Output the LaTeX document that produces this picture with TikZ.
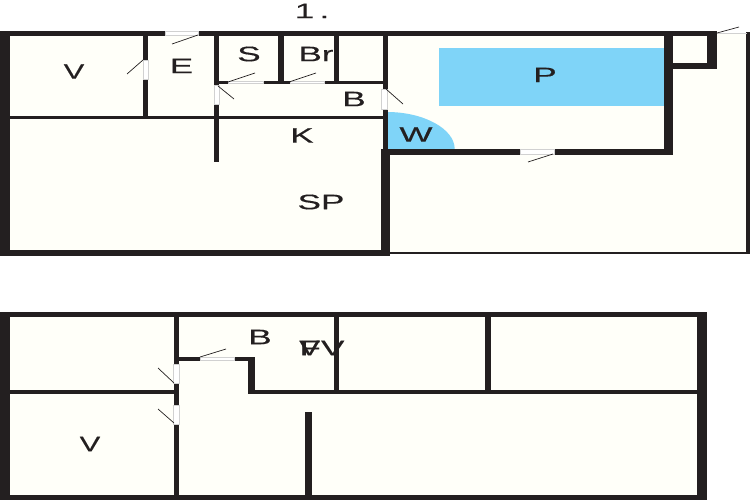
\documentclass[tikz,border=0pt]{standalone}
\usepackage{fontspec}
\setmainfont{Liberation Sans}
\definecolor{floorc}{HTML}{FFFFF9}
\definecolor{wallc}{HTML}{231F20}
\definecolor{waterc}{HTML}{7FD4F8}
\tikzset{
  wall/.style={fill=wallc,draw=wallc,line width=0.7pt},
  pane/.style={fill=white,draw=black!18,line width=0.5pt},
  swing/.style={draw=wallc,line width=0.7pt},
  lbl/.style={font=\fontsize{21}{22}\selectfont\addfontfeature{FakeBold=0.25},text=wallc,xscale=1.67,transform shape,inner sep=0pt},
  lblv/.style={lbl,xscale=0.88}
}
\newcommand{\wl}[4]{\path[wall] (#1,#2) rectangle (#3,#4);}
\newcommand{\pn}[4]{\path[pane] (#1,#2) rectangle (#3,#4);}
\begin{document}
\begin{tikzpicture}[x=1pt,y=-1pt]
\useasboundingbox (0,0) rectangle (750,500);
\fill[white] (0,0) rectangle (750,500);
% floors
\fill[floorc] (0,33) rectangle (750,253);
\fill[white] (716,0) rectangle (750,32);
\fill[floorc] (0,314) rectangle (704,498);
% water
\fill[waterc] (439,48) rectangle (664,106.5);
\fill[waterc] (387,149) -- (387,112) .. controls (424,112) and (454.7,129) .. (454.7,149) -- cycle;
% upper outer walls
\wl{0}{31}{716}{35.5}
\wl{0}{31}{9}{255}
\wl{0}{250}{389}{255}
\wl{381}{149}{389}{255}
\wl{389}{252.6}{750}{253.4}
\wl{746.5}{32.5}{750}{253.4}
% upper interior
\wl{9}{116}{384}{118.3}
\wl{143}{35}{147}{60}
\wl{143}{79}{147}{117}
\wl{214}{35}{218.5}{85}
\wl{214}{104}{218.5}{161}
\wl{278.5}{35}{283.5}{83}
\wl{334}{35}{338.5}{83}
\wl{383}{35}{387}{89}
\wl{383}{109}{387}{150}
\wl{214}{81.5}{228}{83.5}
\wl{263}{81.5}{290}{83.5}
\wl{324}{81.5}{385}{83.5}
\wl{381}{149}{520}{154}
\wl{554}{149}{672.5}{154}
\wl{664}{35}{672.5}{154}
\wl{664}{63.5}{716}{68}
\wl{707}{35}{716}{68}
% upper panes
\pn{165}{30.8}{198}{35.7}
\pn{520}{149}{554}{154}
\pn{143}{60}{148}{79}
\pn{214}{85}{219}{104}
\pn{381.5}{89}{387}{109}
\pn{228}{81.7}{263}{83.5}
\pn{290}{81.7}{324}{83.5}
\pn{717}{32.8}{746}{33.4}
% lower outer walls
\wl{0}{312.3}{706.5}{316.7}
\wl{0}{312.3}{9}{500}
\wl{0}{495}{706.5}{500}
\wl{697}{312.3}{706.5}{500}
% lower interior
\wl{9}{390}{175}{393.4}
\wl{249}{390}{697}{393.4}
\wl{174.5}{316}{178.5}{364}
\wl{174.5}{383}{178.5}{405}
\wl{174.5}{424}{178.5}{495}
\wl{178}{357}{200}{360}
\wl{234}{357}{254}{360}
\wl{248.5}{357}{254}{393}
\wl{334}{316}{338.5}{392}
\wl{485.5}{316}{490}{392}
\wl{305}{412}{311}{495}
% lower panes
\pn{173}{364}{179.5}{383}
\pn{173}{405}{179.5}{424}
\pn{200}{357.5}{234}{360}
% door swings
\coordinate (d1a) at (198,35); \coordinate (d1b) at (172,44);
\coordinate (d2a) at (143,60); \coordinate (d2b) at (127,74);
\coordinate (d3a) at (228,82); \coordinate (d3b) at (255,73);
\coordinate (d4a) at (289,82); \coordinate (d4b) at (316,73);
\coordinate (d5a) at (218,86); \coordinate (d5b) at (234,99);
\coordinate (d6a) at (386,89); \coordinate (d6b) at (403,104);
\coordinate (d7a) at (553,154); \coordinate (d7b) at (528,162);
\coordinate (d8a) at (717,33); \coordinate (d8b) at (739,27);
\coordinate (d9a) at (174,383); \coordinate (d9b) at (158,368);
\coordinate (d10a) at (174,423); \coordinate (d10b) at (158,409);
\coordinate (d11a) at (200,357); \coordinate (d11b) at (226,349);
\foreach \i in {1,...,11} \draw[swing] (d\i a) -- (d\i b);
% labels
\node[lbl] (t1) at (312,11) {1\hspace{.15em}.};
\node[lblv] (tv) at (74,71.5) {V};
\node[lbl] (te) at (181.5,66) {E};
\node[lbl] (ts) at (249,54) {S};
\node[lbl] (tbr) at (316,54) {Br};
\node[lbl] (tb) at (354,99) {B};
\node[lbl] (tk) at (302,135.5) {K};
\node[lbl] (tp) at (545,75) {P};
\node[lbl] (tw) at (416,134.5) {W};
\node[lbl] (tsp) at (321,202) {SP};
\node[lbl] (tb2) at (260,337) {B};
\node[lblv] (tv2) at (90,444) {V};
\node[lbl] (tf) at (322,348) {FV};
\node[lblv] (tw2) at (309.5,348) {V};
\end{tikzpicture}
\end{document}
